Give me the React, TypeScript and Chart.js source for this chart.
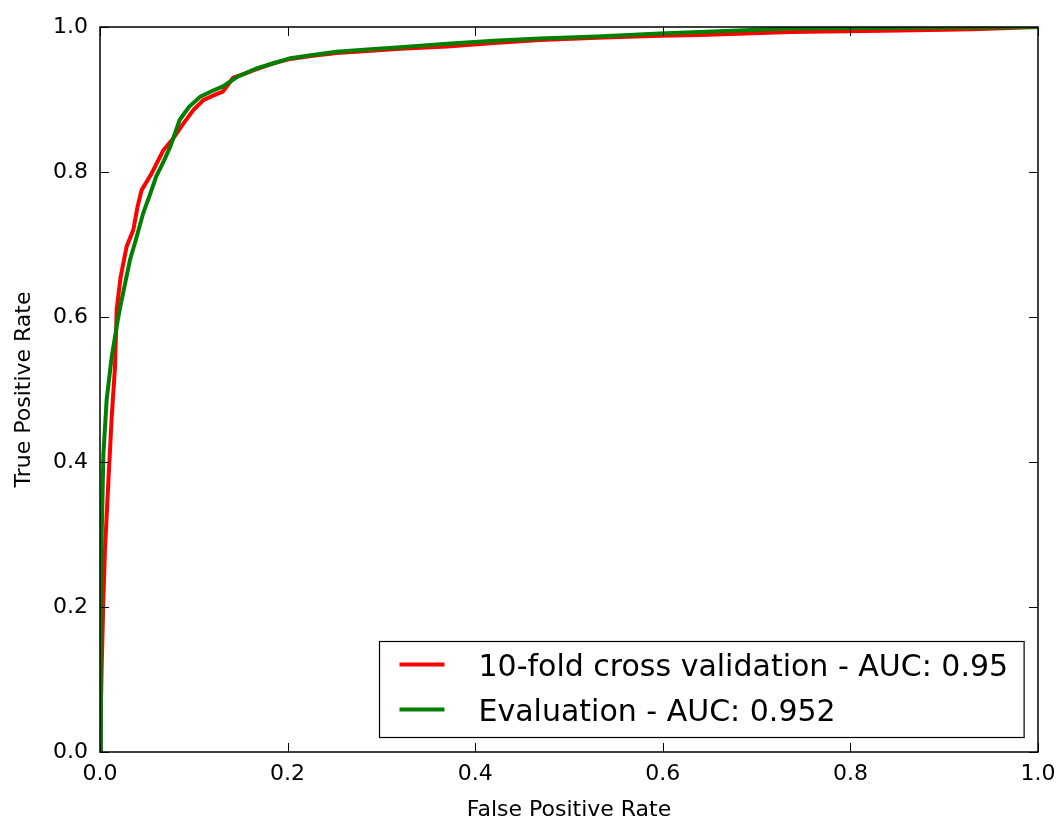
import React, { useEffect, useRef } from 'react';
import { Chart, registerables } from 'chart.js';

Chart.register(...registerables);

// 10-fold cross validation ROC (red)
const cvFpr = [0, 0.0018, 0.0036, 0.0053, 0.009, 0.0125, 0.016, 0.0178, 0.022, 0.0284, 0.0355, 0.04, 0.0444, 0.055, 0.0675, 0.078, 0.089, 0.1, 0.11, 0.12, 0.131, 0.142, 0.155, 0.167, 0.185, 0.203, 0.225, 0.252, 0.285, 0.32, 0.37, 0.42, 0.469, 0.53, 0.597, 0.64, 0.736, 0.853, 0.93, 1];
const cvTpr = [0, 0.118, 0.21, 0.279, 0.375, 0.462, 0.531, 0.61, 0.655, 0.697, 0.72, 0.752, 0.775, 0.798, 0.83, 0.846, 0.867, 0.886, 0.899, 0.905, 0.911, 0.93, 0.936, 0.942, 0.95, 0.956, 0.96, 0.964, 0.967, 0.97, 0.973, 0.978, 0.982, 0.985, 0.988, 0.989, 0.993, 0.995, 0.997, 1];

// Evaluation ROC (green)
const evalFpr = [0, 0.001, 0.001, 0.0018, 0.0036, 0.0071, 0.0125, 0.0195, 0.023, 0.032, 0.039, 0.046, 0.053, 0.06, 0.068, 0.075, 0.085, 0.095, 0.107, 0.12, 0.131, 0.146, 0.167, 0.185, 0.203, 0.225, 0.252, 0.285, 0.32, 0.37, 0.42, 0.469, 0.53, 0.597, 0.66, 0.736, 0.85, 1];
const evalTpr = [0, 0.1, 0.21, 0.3, 0.41, 0.486, 0.545, 0.6, 0.623, 0.679, 0.71, 0.743, 0.768, 0.794, 0.815, 0.835, 0.872, 0.89, 0.904, 0.912, 0.918, 0.931, 0.943, 0.95, 0.957, 0.961, 0.966, 0.969, 0.972, 0.977, 0.981, 0.984, 0.987, 0.991, 0.994, 0.998, 0.999, 1];

const tickValues = [0, 0.2, 0.4, 0.6, 0.8, 1.0];
const tickLabels = ['0.0', '0.2', '0.4', '0.6', '0.8', '1.0'];
const seriesLabels = ['10-fold cross validation - AUC: 0.95', 'Evaluation - AUC: 0.952'];
const seriesColors = ['#ff0000', '#008000'];
const xTitle = 'False Positive Rate';
const yTitle = 'True Positive Rate';

const FONT = '"DejaVu Sans", sans-serif';

const framePlugin = {
  id: 'mplFrame',
  afterDraw(chart: any) {
    const { ctx, chartArea: a, scales } = chart;
    ctx.save();
    // inward ticks on all four sides
    ctx.strokeStyle = '#000';
    ctx.lineWidth = 1;
    const TL = 9;
    tickValues.forEach((v) => {
      const x = Math.round(scales.x.getPixelForValue(v)) + 0.5;
      ctx.beginPath();
      ctx.moveTo(x, a.bottom);
      ctx.lineTo(x, a.bottom - TL);
      ctx.moveTo(x, a.top);
      ctx.lineTo(x, a.top + TL);
      ctx.stroke();
      const y = Math.round(scales.y.getPixelForValue(v)) + 0.5;
      ctx.beginPath();
      ctx.moveTo(a.left, y);
      ctx.lineTo(a.left + TL, y);
      ctx.moveTo(a.right, y);
      ctx.lineTo(a.right - TL, y);
      ctx.stroke();
    });
    // frame
    ctx.lineWidth = 1.5;
    ctx.strokeRect(a.left, a.top, a.right - a.left, a.bottom - a.top);

    // legend box
    ctx.font = `30px ${FONT}`;
    const labels = chart.data.datasets.map((d: any) => d.label);
    const textW = Math.max(...labels.map((l: string) => ctx.measureText(l).width));
    const textOff = 99;
    const padR = 16;
    const boxW = textOff + textW + padR;
    const boxH = 96;
    const bx = Math.round(a.right - 14 - boxW) + 0.5;
    const by = Math.round(a.bottom - 15 - boxH) + 0.5;
    ctx.fillStyle = '#fff';
    ctx.fillRect(bx, by, boxW, boxH);
    ctx.lineWidth = 1.2;
    ctx.strokeStyle = '#000';
    ctx.strokeRect(bx, by, boxW, boxH);
    chart.data.datasets.forEach((d: any, i: number) => {
      const ry = by + 23 + i * 45;
      ctx.strokeStyle = d.borderColor;
      ctx.lineWidth = d.borderWidth;
      ctx.beginPath();
      ctx.moveTo(bx + 20, ry);
      ctx.lineTo(bx + 65, ry);
      ctx.stroke();
      ctx.fillStyle = '#000';
      ctx.textBaseline = 'alphabetic';
      ctx.textAlign = 'left';
      ctx.fillText(d.label, bx + textOff, ry + 11);
    });
    ctx.restore();
  },
};

export default function App() {
  const ref = useRef<HTMLCanvasElement>(null);

  useEffect(() => {
    document.body.style.margin = '0';
    const canvas = ref.current;
    if (!canvas) return;
    const font = { family: FONT, size: 22 };
    const chart = new Chart(canvas, {
      type: 'line',
      data: {
        datasets: [
          {
            label: seriesLabels[0],
            data: cvFpr.map((x, i) => ({ x, y: cvTpr[i] })),
            borderColor: seriesColors[0],
            backgroundColor: seriesColors[0],
            borderWidth: 4,
            pointRadius: 0,
            tension: 0,
            fill: false,
            order: 1,
          },
          {
            label: seriesLabels[1],
            data: evalFpr.map((x, i) => ({ x, y: evalTpr[i] })),
            borderColor: seriesColors[1],
            backgroundColor: seriesColors[1],
            borderWidth: 4,
            pointRadius: 0,
            tension: 0,
            fill: false,
            order: 0,
          },
        ],
      },
      options: {
        animation: false,
        responsive: false,
        maintainAspectRatio: false,
        layout: { padding: { top: 27, right: 23, left: 0, bottom: 0 } },
        plugins: { legend: { display: false }, tooltip: { enabled: false } },
        scales: {
          x: {
            type: 'linear',
            min: 0,
            max: 1,
            grid: { display: false, drawTicks: false },
            border: { display: false },
            afterBuildTicks: (s: any) => {
              s.ticks = tickValues.map((v) => ({ value: v }));
            },
            afterFit: (s: any) => {
              s.height = 71;
              s.paddingLeft = 0;
              s.paddingRight = 0;
            },
            ticks: {
              padding: 9,
              font,
              color: '#000',
              maxRotation: 0,
              callback: (_v: any, i: number) => tickLabels[i],
            },
            title: { display: true, text: xTitle, font, color: '#000', padding: { top: 0, bottom: 0 } },
          },
          y: {
            type: 'linear',
            min: 0,
            max: 1,
            grid: { display: false, drawTicks: false },
            border: { display: false },
            afterBuildTicks: (s: any) => {
              s.ticks = tickValues.map((v) => ({ value: v }));
            },
            afterFit: (s: any) => {
              s.width = 100;
              s.paddingTop = 0;
              s.paddingBottom = 0;
            },
            ticks: {
              padding: 12,
              font,
              color: '#000',
              callback: (_v: any, i: number) => tickLabels[i],
            },
            title: { display: true, text: yTitle, font, color: '#000', padding: { top: 11, bottom: 0 } },
          },
        },
      },
      plugins: [framePlugin],
    });
    return () => chart.destroy();
  }, []);

  return (
    <div style={{ width: 1061, height: 823 }}>
      <canvas ref={ref} width={1061} height={823} style={{ display: 'block' }} />
    </div>
  );
}
